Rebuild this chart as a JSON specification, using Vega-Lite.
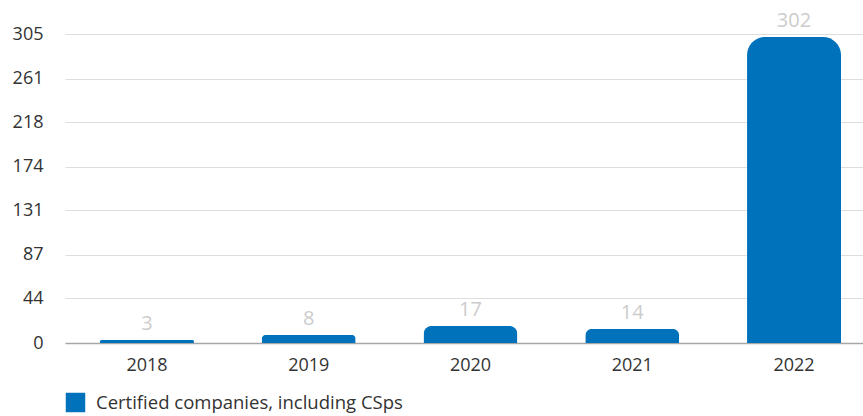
{
  "$schema": "https://vega.github.io/schema/vega-lite/v6.json",
  "autosize": "none",
  "width": 798,
  "height": 309,
  "padding": {"left": 65, "top": 34, "right": 0, "bottom": 73},
  "config": {
    "view": {"stroke": null},
    "font": "Open Sans"
  },
  "data": {
    "values": [
      {"year": "2018", "value": 3, "series": "Certified companies, including CSps"},
      {"year": "2019", "value": 8, "series": "Certified companies, including CSps"},
      {"year": "2020", "value": 17, "series": "Certified companies, including CSps"},
      {"year": "2021", "value": 14, "series": "Certified companies, including CSps"},
      {"year": "2022", "value": 302, "series": "Certified companies, including CSps"}
    ]
  },
  "encoding": {
    "x": {
      "field": "year",
      "type": "ordinal",
      "scale": {"paddingInner": 0.419, "paddingOuter": 0.176, "align": 0.614},
      "axis": {
        "title": null,
        "labelAngle": 0,
        "labelFontSize": 18,
        "labelColor": "#333333",
        "labelPadding": 13,
        "ticks": false,
        "domainColor": "#a6a6a6",
        "domainWidth": 1.5
      }
    },
    "y": {
      "field": "value",
      "type": "quantitative",
      "scale": {"domain": [0, 305], "nice": false},
      "axis": {
        "title": null,
        "values": [0, 44, 87, 131, 174, 218, 261, 305],
        "labelFontSize": 18,
        "labelColor": "#333333",
        "labelPadding": 22,
        "ticks": false,
        "domain": false,
        "gridColor": "#dddddd",
        "gridWidth": 1.2
      }
    }
  },
  "layer": [
    {
      "mark": {"type": "bar", "cornerRadiusTopLeft": 18, "cornerRadiusTopRight": 18},
      "encoding": {
        "color": {
          "field": "series",
          "type": "nominal",
          "scale": {"range": ["#0072BB"]},
          "legend": {
            "title": null,
            "orient": "none",
            "legendX": 0,
            "legendY": 358,
            "symbolType": "square",
            "symbolSize": 380,
            "symbolOpacity": 1,
            "labelFontSize": 18.5,
            "labelColor": "#333333",
            "labelOffset": 10,
            "labelLimit": 600
          }
        }
      }
    },
    {
      "mark": {"type": "text", "dy": -6, "fontSize": 20, "color": "#cccccc", "baseline": "bottom"},
      "encoding": {"text": {"field": "value", "type": "quantitative"}}
    }
  ]
}
